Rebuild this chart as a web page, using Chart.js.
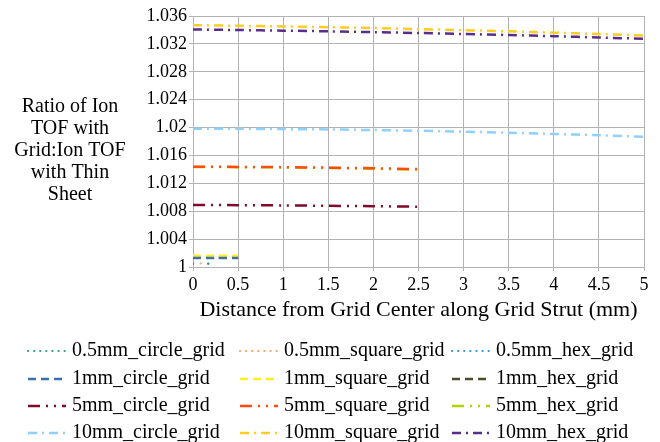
<!DOCTYPE html>
<html>
<head>
<meta charset="utf-8">
<script src="https://cdn.jsdelivr.net/npm/chart.js@4/dist/chart.umd.min.js"></script>
<style>
  html, body { margin: 0; padding: 0; background: #fff; }
  #wrap { position: relative; width: 660px; height: 442px; }
</style>
</head>
<body>
<div id="wrap"><canvas id="c" width="660" height="442"></canvas></div>
<script>
// ---- data ----
const x05 = [0, 0.1, 0.2];
const x1 = [0, 0.25, 0.5];
const x5 = [0, 0.5, 1, 1.5, 2, 2.5];
const x10 = [0, 0.5, 1, 1.5, 2, 2.5, 3, 3.5, 4, 4.5, 5];

const circle05 = [1.00045, 1.00045, 1.00045];
const square05 = [1.0005, 1.0005, 1.0005];
const hex05 = [1.0005, 1.0005, 1.0005];

const circle1 = [1.0013, 1.0013, 1.0013];
const square1 = [1.0016, 1.0016, 1.0016];
const hex1 = [1.00137, 1.00137, 1.00137];

const circle5 = [1.00889, 1.00887, 1.00883, 1.00878, 1.00872, 1.00865];
const square5 = [1.01438, 1.01436, 1.01432, 1.01425, 1.01416, 1.01405];
const hex5 = [1.01434, 1.01432, 1.01428, 1.0142, 1.0141, 1.01396];

const circle10 = [1.01983, 1.01982, 1.01978, 1.01973, 1.01964, 1.01954, 1.01941, 1.01926, 1.01909, 1.01889, 1.01867];
const square10 = [1.03468, 1.0346, 1.0345, 1.03439, 1.03427, 1.03413, 1.03397, 1.0338, 1.03361, 1.03341, 1.0332];
const hex10 = [1.03406, 1.03399, 1.0339, 1.0338, 1.03369, 1.03356, 1.03342, 1.03327, 1.0331, 1.03292, 1.03273];

const seriesNames = ['0.5mm_circle_grid', '0.5mm_square_grid', '0.5mm_hex_grid',
  '1mm_circle_grid', '1mm_square_grid', '1mm_hex_grid',
  '5mm_circle_grid', '5mm_square_grid', '5mm_hex_grid',
  '10mm_circle_grid', '10mm_square_grid', '10mm_hex_grid'];
const yTitleLines = ['Ratio of Ion', 'TOF with', 'Grid:Ion TOF', 'with Thin', 'Sheet'];
const xTitle = 'Distance from Grid Center along Grid Strut (mm)';

// ---- styles ----
const colors = ['#2a9d7f', '#f7a35c', '#2f8fd8',
  '#3a6fb0', '#ffee22', '#4d4d2a',
  '#7f0a2a', '#ff4a10', '#b4d400',
  '#8fd0ff', '#ffcc22', '#5a2d8a'];
const dotDash = [0.1, 15];
const dashDash = [8, 5];
const ddDash = [12, 6, 2, 6, 2, 6];
const dDash = [9, 5, 2, 5];
const dashes = [dotDash, dotDash, dotDash, dashDash, dashDash, dashDash, ddDash, ddDash, ddDash, dDash, dDash, dDash];
const dashOffsets = [0, 7.5, 0, 0, 0, 0, 0, 0, 0, 0, 0, 0];
const xsets = [x05, x05, x05, x1, x1, x1, x5, x5, x5, x10, x10, x10];
const ysets = [circle05, square05, hex05, circle1, square1, hex1, circle5, square5, hex5, circle10, square10, hex10];

const FONT = "'Liberation Serif', 'Times New Roman', serif";

const datasets = seriesNames.map((name, i) => ({
  label: name,
  data: xsets[i].map((x, j) => ({ x: x, y: ysets[i][j] })),
  borderColor: colors[i],
  backgroundColor: colors[i],
  borderDash: dashes[i],
  borderDashOffset: dashOffsets[i],
  borderCapStyle: i < 3 ? 'round' : 'butt',
  borderWidth: i < 3 ? 2.2 : 2.5,
  pointRadius: 0,
  fill: false,
  tension: 0.3
}));

const yTitlePlugin = {
  id: 'yTitle',
  afterDraw(chart) {
    const ctx = chart.ctx;
    ctx.save();
    ctx.font = '20px ' + FONT;
    ctx.fillStyle = '#000';
    ctx.textAlign = 'center';
    ctx.textBaseline = 'middle';
    const ys = [106.5, 128.5, 150.7, 172.7, 195];
    yTitleLines.forEach((t, i) => ctx.fillText(t, 70, ys[i]));
    ctx.restore();
  }
};

const legendPlugin = {
  id: 'gridLegend',
  afterDraw(chart) {
    const ctx = chart.ctx;
    const colX = [28, 240, 452];
    const rowY = [351, 379, 406, 433];
    ctx.save();
    chart.data.datasets.forEach((ds, i) => {
      const r = Math.floor(i / 3), c = i % 3;
      const x0 = colX[c], y = rowY[r];
      ctx.beginPath();
      ctx.strokeStyle = ds.borderColor;
      ctx.lineWidth = ds.borderWidth;
      ctx.lineCap = ds.borderCapStyle;
      ctx.setLineDash(i < 3 ? [0.1, 6] : ds.borderDash);
      ctx.moveTo(x0, y);
      ctx.lineTo(x0 + 38, y);
      ctx.stroke();
      ctx.setLineDash([]);
      ctx.font = '20px ' + FONT;
      ctx.fillStyle = '#000';
      ctx.textAlign = 'left';
      ctx.textBaseline = 'middle';
      ctx.fillText(ds.label, x0 + 44, y);
    });
    ctx.restore();
  }
};

new Chart(document.getElementById('c'), {
  type: 'line',
  data: { datasets: datasets },
  options: {
    responsive: false,
    animation: false,
    layout: { padding: { left: 143, right: 16, top: 16, bottom: 115 } },
    plugins: { legend: { display: false }, tooltip: { enabled: false } },
    scales: {
      x: {
        type: 'linear',
        min: 0, max: 5,
        afterFit(s) { s.height = 60; },
        ticks: { stepSize: 0.5, color: '#000', font: { family: FONT, size: 18 }, padding: 3, maxRotation: 0,
          callback: v => String(Number(v.toFixed(1))) },
        grid: { color: '#b3b3b3', lineWidth: 1, tickLength: 4 },
        border: { color: '#b3b3b3' },
        title: { display: true, text: xTitle, color: '#000', font: { family: FONT, size: 22 }, padding: { top: 0, bottom: 4 } }
      },
      y: {
        min: 1, max: 1.036,
        afterFit(s) { s.width = 50; },
        ticks: { stepSize: 0.004, color: '#000', font: { family: FONT, size: 18 }, padding: 2,
          callback: v => String(Number(v.toFixed(3))) },
        grid: { color: '#b3b3b3', lineWidth: 1, tickLength: 4 },
        border: { color: '#b3b3b3' }
      }
    }
  },
  plugins: [yTitlePlugin, legendPlugin]
});
</script>
</body>
</html>
